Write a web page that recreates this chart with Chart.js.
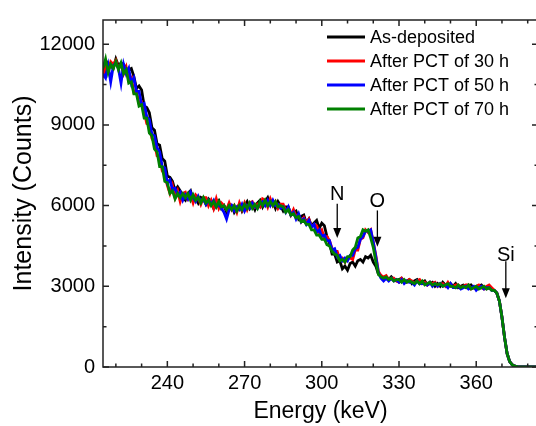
<!DOCTYPE html>
<html><head><meta charset="utf-8">
<script src="https://cdn.jsdelivr.net/npm/chart.js@4.4.1/dist/chart.umd.min.js"></script>
<style>html,body{margin:0;padding:0;overflow:hidden;background:#fff}#wrap{width:540px;height:426px}</style>
</head><body><div id="wrap"><canvas id="c" width="540" height="426"></canvas></div>
<script>
const energy = [
215,216,217,218,219,220,221,222,223,224,
225,226,227,228,229,230,231,232,233,234,
235,236,237,238,239,240,241,242,243,244,
245,246,247,248,249,250,251,252,253,254,
255,256,257,258,259,260,261,262,263,264,
265,266,267,268,269,270,271,272,273,274,
275,276,277,278,279,280,281,282,283,284,
285,286,287,288,289,290,291,292,293,294,
295,296,297,298,299,300,301,302,303,304,
305,306,307,308,309,310,311,312,313,314,
315,316,317,318,319,320,321,322,323,324,
325,326,327,328,329,330,331,332,333,334,
335,336,337,338,339,340,341,342,343,344,
345,346,347,348,349,350,351,352,353,354,
355,356,357,358,359,360,361,362,363,364,
365,366,367,368,369,370,371,372,373,374,
375,376,377,378,379,380,381,382,383,384];

const asDeposited = [
11100,10900,11300,11200,11100,11450,11200,11300,11250,11100,
11050,11100,10800,10350,10450,10300,9700,9650,9450,8900,
8800,8300,8250,7750,7650,7100,7050,6900,6550,6700,
6550,6300,6200,6450,6550,6200,6300,6100,6300,6250,
6050,6250,6150,5900,6150,6200,5900,6000,5750,6050,
6000,5750,5900,6050,5800,6000,6150,5900,6050,5850,
6100,6200,5950,6150,6300,6050,6150,5900,6150,6000,
5800,5950,5950,5650,5750,5800,5500,5600,5650,5350,
5500,5250,5350,5450,5150,5350,5250,4850,4600,4200,
4200,3900,3950,3650,3750,3600,3850,3900,3750,3950,
4000,3900,4100,4050,4150,3900,3750,3450,3400,3250,
3350,3250,3350,3250,3200,3250,3300,3150,3200,3250,
3100,3200,3250,3100,3150,3200,3050,3100,3150,3000,
3100,3000,3150,3050,3000,3100,3000,3100,2950,3000,
3050,3000,2950,3050,2950,2900,3000,3050,2950,2900,
2950,2900,2850,2750,2450,1850,1100,500,200,80,
30,10,5,0,0,0,0,0,0,0];

const pct30 = [
10750,11200,11000,11350,11250,11400,11100,11250,10900,11150,
10650,10750,10200,10250,9800,9850,9500,9050,9000,8500,
8350,7850,7800,7300,7150,6750,6450,6750,6300,6550,
6150,6450,6500,6250,6400,6100,6400,6300,6050,6300,
6300,6000,6200,5900,6250,5900,6100,6000,5850,6100,
5850,6000,5750,6100,5850,6100,5850,6100,6150,5950,
6050,5950,6250,6200,5950,6250,6000,6150,5900,6050,
6050,5800,5900,5650,5850,5600,5650,5400,5550,5350,
5500,5200,5300,5250,5000,5100,4800,4850,4700,4400,
4300,4300,4000,4050,3900,4050,4050,4000,4350,4350,
4750,4800,5100,5000,5100,4650,4150,3550,3400,3350,
3400,3250,3300,3300,3200,3150,3300,3200,3150,3250,
3200,3100,3200,3250,3100,3150,3050,3150,3100,3150,
3000,3100,3100,3000,3150,3000,3000,3050,3050,2950,
3000,3050,3050,2900,2950,3000,3050,2950,2900,3000,
3050,2950,2850,2750,2450,1850,1100,500,200,80,
30,10,5,0,0,0,0,0,0,0];

const pct50 = [
10900,10750,11200,10600,11200,11300,11100,10550,11250,10900,
11100,10550,10750,10250,10250,9750,9800,9300,9200,8650,
8600,8150,8000,7450,7400,6850,6950,6600,6650,6400,
6500,6200,6400,6250,6500,6300,6150,6350,6150,6250,
6050,6200,6050,6200,5950,6050,5900,5750,5500,5850,
6000,5800,5950,5850,6050,5800,6000,5900,6100,5950,
5900,6100,6150,6000,6200,6000,6200,6000,6050,5900,
5950,5750,5950,5650,5750,5500,5700,5400,5500,5300,
5450,5200,5300,5000,5100,4850,4900,4700,4700,4350,
4400,4100,4150,3950,4050,3950,4150,4150,4400,4450,
4750,4850,5050,5050,5100,4650,4100,3500,3300,3200,
3300,3200,3300,3200,3250,3150,3250,3100,3200,3150,
3150,3050,3200,3100,3100,3100,3050,3150,3000,3100,
3000,3100,3000,3050,2950,3100,2950,2950,3000,2900,
2950,3000,2900,2950,3000,2850,2950,3000,2900,2950,
2950,2850,2850,2750,2450,1850,1100,500,200,80,
30,10,5,0,0,0,0,0,0,0];

const pct70 = [
11100,11450,10950,11250,11100,11350,11050,11300,10900,11050,
10550,10600,10150,10150,9700,9750,9250,9250,8700,8600,
8100,8000,7450,7450,6900,6850,6450,6550,6250,6450,
6300,6450,6300,6450,6200,6400,6200,6300,6100,6300,
6100,6200,6000,6150,5950,6150,5950,6000,5850,6000,
5850,6000,5800,6000,5850,6050,5900,6100,5900,6050,
5900,6150,6000,6200,6000,6150,6000,6150,5950,6000,
5950,5750,5850,5650,5700,5550,5600,5400,5450,5300,
5300,5100,5100,4900,4900,4750,4750,4550,4500,4300,
4200,4150,3950,4000,3900,4100,4100,4350,4450,4800,
4850,5100,5050,5100,4800,4450,3900,3450,3350,3300,
3350,3250,3300,3200,3250,3250,3150,3250,3150,3200,
3150,3100,3200,3100,3200,3050,3100,3150,3050,3100,
3050,3100,3000,3050,3100,3000,3000,2950,3050,2950,
3000,2950,3050,2900,2950,3000,2900,2950,3000,2900,
2950,2850,2850,2750,2450,1850,1100,500,200,80,
30,10,5,0,0,0,0,0,0,0];

const seriesNames = ['As-deposited', 'After PCT of 30 h', 'After PCT of 50 h', 'After PCT of 70 h'];
const seriesColors = ['#000000', '#ff0000', '#0000ff', '#008000'];
const xTicks = [240, 270, 300, 330, 360];
const xMinorTicks = [220, 230, 250, 260, 280, 290, 310, 320, 340, 350, 370, 380];
const yTicks = [0, 3000, 6000, 9000, 12000];
const yMinorTicks = [1500, 4500, 7500, 10500];
const peakLabels = ['N', 'O', 'Si'];
const peakEnergy = [306, 321.6, 371.5];
const peakArrowTop = [6070, 5820, 3930];
const peakArrowTip = [4800, 4470, 2556];
const peakLabelY = [6420, 6135, 4160];

const FONT = "'Liberation Sans', Arial, Helvetica, sans-serif";
const allSeries = [asDeposited, pct30, pct50, pct70];

const framePlugin = {
  id: 'frame',
  afterDatasetsDraw(chart) {
    const {ctx, chartArea: a, scales: {x, y}} = chart;
    ctx.save();
    ctx.strokeStyle = '#222';
    ctx.lineWidth = 1.5;
    ctx.strokeRect(a.left, a.top, a.right - a.left, a.bottom - a.top);
    const tick = (vals, len) => {
      vals.forEach(v => {
        const px = x.getPixelForValue(v);
        ctx.beginPath();
        ctx.moveTo(px, a.bottom); ctx.lineTo(px, a.bottom - len);
        ctx.moveTo(px, a.top); ctx.lineTo(px, a.top + len);
        ctx.stroke();
      });
    };
    const ytick = (vals, len) => {
      vals.forEach(v => {
        const py = y.getPixelForValue(v);
        ctx.beginPath();
        ctx.moveTo(a.left, py); ctx.lineTo(a.left + len, py);
        ctx.moveTo(a.right, py); ctx.lineTo(a.right - len, py);
        ctx.stroke();
      });
    };
    tick(xTicks, 6); tick(xMinorTicks, 3.5);
    ytick(yTicks, 6); ytick(yMinorTicks, 3.5);

    ctx.fillStyle = '#000';
    ctx.strokeStyle = '#000';
    ctx.lineWidth = 1.3;
    peakLabels.forEach((lab, i) => {
      const px = x.getPixelForValue(peakEnergy[i]);
      const pt = y.getPixelForValue(peakArrowTop[i]);
      const pp = y.getPixelForValue(peakArrowTip[i]);
      ctx.beginPath();
      ctx.moveTo(px, pt); ctx.lineTo(px, pp - 8);
      ctx.stroke();
      ctx.beginPath();
      ctx.moveTo(px - 4, pp - 10); ctx.lineTo(px + 4, pp - 10); ctx.lineTo(px, pp);
      ctx.closePath(); ctx.fill();
      ctx.font = '20px ' + FONT;
      ctx.textAlign = 'center'; ctx.textBaseline = 'middle';
      ctx.fillText(lab, px, y.getPixelForValue(peakLabelY[i]));
    });

    ctx.font = '18px ' + FONT;
    ctx.textAlign = 'left'; ctx.textBaseline = 'middle';
    seriesNames.forEach((n, i) => {
      const ly = 37 + i * 24;
      ctx.strokeStyle = seriesColors[i];
      ctx.lineWidth = 3;
      ctx.beginPath(); ctx.moveTo(327, ly); ctx.lineTo(365, ly); ctx.stroke();
      ctx.fillStyle = '#000';
      ctx.fillText(n, 370, ly + 1);
    });
    ctx.restore();
  }
};

new Chart(document.getElementById('c'), {
  type: 'line',
  data: {
    datasets: allSeries.map((d, i) => ({
      label: seriesNames[i],
      data: energy.map((e, j) => ({x: e, y: d[j]})),
      borderColor: seriesColors[i],
      borderWidth: 2.8,
      pointRadius: 0,
      fill: false,
      tension: 0,
      order: 3 - i
    }))
  },
  options: {
    responsive: false,
    animation: false,
    devicePixelRatio: 1,
    layout: {padding: {top: 12, right: 2, left: 0, bottom: 0}},
    plugins: {legend: {display: false}, tooltip: {enabled: false}},
    scales: {
      x: {
        type: 'linear', min: 215, max: 384,
        afterBuildTicks: s => { s.ticks = xTicks.map(v => ({value: v})); },
        afterFit: s => { s.height = 59; },
        grid: {display: false, drawTicks: false},
        border: {display: false},
        ticks: {font: {family: FONT, size: 20}, color: '#000', padding: 4, maxRotation: 0, autoSkip: false, callback: v => String(v)},
        title: {display: true, text: 'Energy (keV)', font: {family: FONT, size: 23}, color: '#000', padding: {top: 0, bottom: 1}}
      },
      y: {
        type: 'linear', min: 0, max: 12900,
        afterBuildTicks: s => { s.ticks = yTicks.map(v => ({value: v})); },
        afterFit: s => { s.width = 103; },
        grid: {display: false, drawTicks: false},
        border: {display: false},
        ticks: {font: {family: FONT, size: 20}, color: '#000', padding: 8, autoSkip: false, callback: v => String(v)},
        title: {display: true, text: 'Intensity (Counts)', font: {family: FONT, size: 25}, color: '#000', padding: {top: 9, bottom: 0}}
      }
    }
  },
  plugins: [framePlugin]
});
</script></body></html>
